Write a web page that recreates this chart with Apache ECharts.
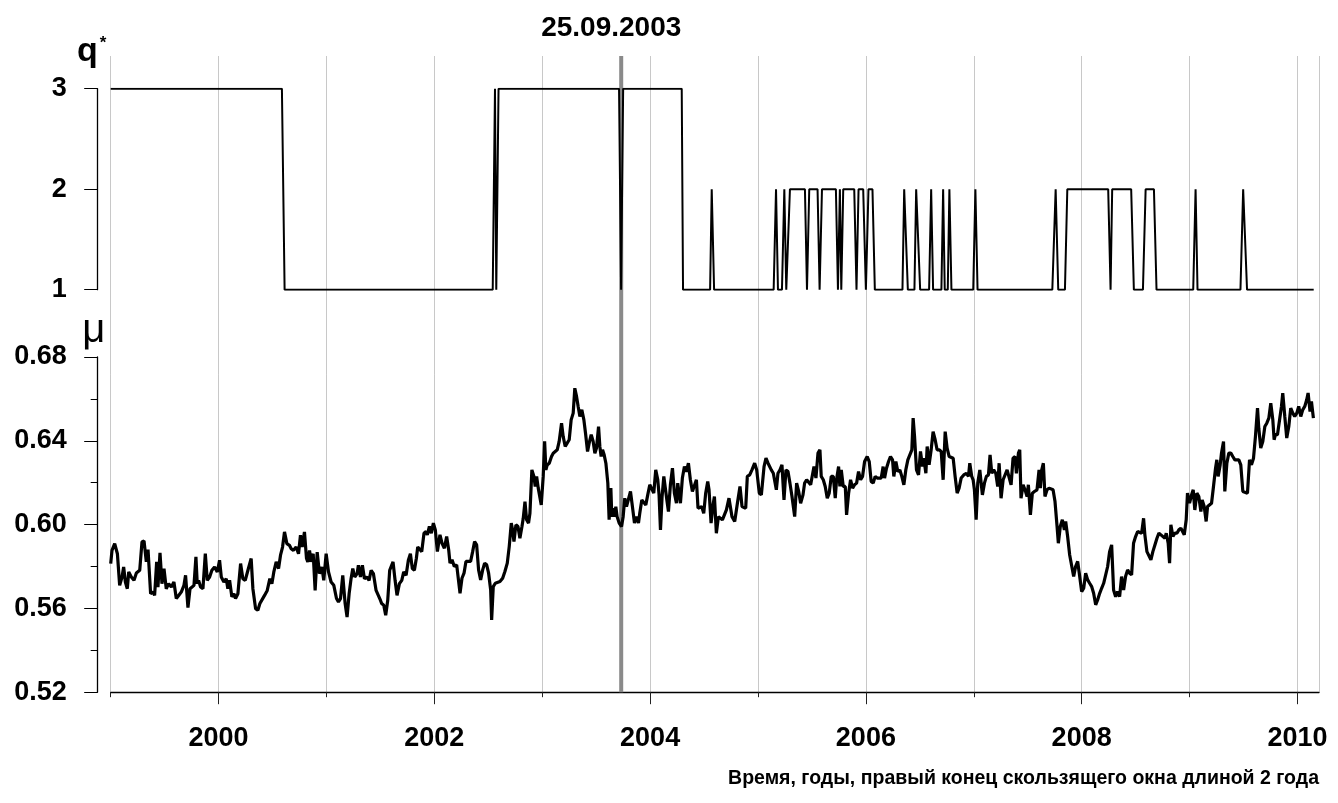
<!DOCTYPE html>
<html><head><meta charset="utf-8">
<script src="https://cdn.jsdelivr.net/npm/echarts@6/dist/echarts.min.js"></script>
<style>html,body{margin:0;padding:0;background:#fff}#c{width:1338px;height:803px}</style>
</head><body><div id="c"></div>
<script>
// μ (bottom panel): [year, value]
const muPoints = [
[1999.000,0.5814],[1999.012,0.5877],[1999.037,0.5909],[1999.062,0.5861],[1999.083,0.5710],[1999.105,0.5750],[1999.120,0.5798],[1999.136,0.5726],[1999.154,0.5694],[1999.167,0.5774],[1999.191,0.5750],[1999.216,0.5734],[1999.238,0.5769],[1999.269,0.5782],[1999.290,0.5917],[1999.309,0.5922],[1999.330,0.5822],[1999.346,0.5881],[1999.370,0.5670],[1999.392,0.5678],[1999.407,0.5662],[1999.426,0.5822],[1999.438,0.5702],[1999.457,0.5865],[1999.475,0.5718],[1999.494,0.5790],[1999.515,0.5694],[1999.537,0.5718],[1999.562,0.5702],[1999.586,0.5726],[1999.608,0.5647],[1999.630,0.5662],[1999.654,0.5678],[1999.679,0.5710],[1999.694,0.5758],[1999.716,0.5604],[1999.735,0.5694],[1999.753,0.5686],[1999.772,0.5710],[1999.790,0.5846],[1999.802,0.5718],[1999.815,0.5734],[1999.833,0.5702],[1999.855,0.5694],[1999.877,0.5861],[1999.895,0.5734],[1999.917,0.5750],[1999.938,0.5782],[1999.963,0.5798],[1999.988,0.5774],
[2000.009,0.5830],[2000.025,0.5750],[2000.049,0.5726],[2000.071,0.5742],[2000.086,0.5694],[2000.102,0.5734],[2000.123,0.5655],[2000.142,0.5670],[2000.157,0.5647],[2000.179,0.5670],[2000.204,0.5814],[2000.225,0.5742],[2000.247,0.5734],[2000.272,0.5782],[2000.302,0.5838],[2000.318,0.5694],[2000.343,0.5599],[2000.364,0.5591],[2000.383,0.5623],[2000.401,0.5623],[2000.426,0.5662],[2000.451,0.5686],[2000.475,0.5742],[2000.494,0.5718],[2000.512,0.5774],[2000.534,0.5822],[2000.556,0.5790],[2000.574,0.5854],[2000.593,0.5893],[2000.611,0.5965],[2000.633,0.5909],[2000.657,0.5901],[2000.673,0.5885],[2000.694,0.5877],[2000.719,0.5893],[2000.741,0.5861],[2000.759,0.5949],[2000.775,0.5893],[2000.796,0.5965],[2000.815,0.5838],[2000.827,0.5822],[2000.843,0.5877],[2000.858,0.5822],[2000.877,0.5861],[2000.895,0.5686],[2000.914,0.5869],[2000.935,0.5766],[2000.957,0.5798],[2000.975,0.5734],[2000.997,0.5861],
[2001.019,0.5774],[2001.043,0.5726],[2001.068,0.5710],[2001.093,0.5647],[2001.111,0.5631],[2001.130,0.5647],[2001.151,0.5758],[2001.173,0.5623],[2001.191,0.5559],[2001.210,0.5670],[2001.228,0.5742],[2001.244,0.5790],[2001.262,0.5750],[2001.284,0.5766],[2001.296,0.5806],[2001.315,0.5750],[2001.333,0.5806],[2001.352,0.5742],[2001.373,0.5750],[2001.395,0.5734],[2001.414,0.5782],[2001.435,0.5766],[2001.460,0.5686],[2001.475,0.5678],[2001.500,0.5639],[2001.512,0.5623],[2001.531,0.5615],[2001.549,0.5567],[2001.568,0.5639],[2001.586,0.5782],[2001.599,0.5774],[2001.617,0.5822],[2001.636,0.5734],[2001.654,0.5662],[2001.676,0.5718],[2001.698,0.5734],[2001.716,0.5774],[2001.738,0.5758],[2001.759,0.5830],[2001.778,0.5861],[2001.796,0.5790],[2001.815,0.5782],[2001.833,0.5838],[2001.846,0.5893],
[2001.861,0.5895],[2001.883,0.5871],[2001.904,0.5959],[2001.923,0.5967],[2001.935,0.5951],[2001.954,0.5991],[2001.972,0.5959],[2001.991,0.6007],[2002.009,0.5975],[2002.028,0.5871],[2002.052,0.5951],[2002.071,0.5911],[2002.093,0.5887],[2002.114,0.5943],[2002.133,0.5879],[2002.145,0.5816],[2002.164,0.5832],[2002.185,0.5800],[2002.207,0.5808],[2002.225,0.5800],[2002.238,0.5672],[2002.256,0.5744],[2002.275,0.5768],[2002.293,0.5824],[2002.315,0.5824],[2002.336,0.5824],[2002.355,0.5871],[2002.373,0.5919],[2002.392,0.5903],[2002.410,0.5784],[2002.429,0.5736],[2002.448,0.5784],[2002.466,0.5816],[2002.485,0.5808],[2002.503,0.5768],[2002.522,0.5688],[2002.531,0.5545],[2002.546,0.5704],[2002.565,0.5720],[2002.583,0.5712],[2002.608,0.5728],[2002.633,0.5744],[2002.654,0.5776],[2002.676,0.5816],[2002.694,0.5895],[2002.713,0.6007],[2002.725,0.5975],[2002.738,0.5919],[2002.756,0.5999],[2002.775,0.5991],[2002.793,0.5935],[2002.812,0.5991],[2002.824,0.6030],[2002.840,0.6110],[2002.855,0.6023],[2002.873,0.6007],[2002.886,0.6054],[2002.904,0.6261],[2002.923,0.6230],[2002.935,0.6182],[2002.948,0.6230],[2002.963,0.6174],[2002.978,0.6182],[2002.991,0.6094],
[2003.009,0.6230],[2003.022,0.6397],[2003.034,0.6261],[2003.046,0.6285],[2003.065,0.6293],[2003.086,0.6325],[2003.102,0.6341],[2003.120,0.6333],[2003.139,0.6357],[2003.157,0.6397],[2003.179,0.6484],[2003.194,0.6421],[2003.213,0.6373],[2003.231,0.6389],[2003.250,0.6405],[2003.268,0.6500],[2003.287,0.6532],[2003.302,0.6651],[2003.318,0.6612],[2003.333,0.6564],[2003.349,0.6516],[2003.367,0.6548],[2003.386,0.6500],[2003.401,0.6437],[2003.420,0.6349],[2003.435,0.6389],[2003.454,0.6429],[2003.472,0.6397],[2003.488,0.6341],[2003.503,0.6365],[2003.522,0.6468],[2003.534,0.6373],[2003.546,0.6325],[2003.559,0.6357],[2003.574,0.6333],[2003.590,0.6293],[2003.608,0.6198],[2003.620,0.6023],[2003.636,0.6174],[2003.645,0.6038],[2003.657,0.6078],[2003.670,0.6038],[2003.682,0.6086],[2003.694,0.6038],[2003.713,0.6007],[2003.735,0.5991],[2003.750,0.6038],[2003.765,0.6126],[2003.781,0.6086],[2003.799,0.6094],[2003.818,0.6158],[2003.836,0.6086],[2003.855,0.6007],[2003.873,0.6038],[2003.892,0.6007],[2003.904,0.6054],[2003.923,0.6118],[2003.941,0.6110],[2003.960,0.6094],[2003.978,0.6142],[2003.997,0.6190],
[2004.015,0.6190],[2004.034,0.6150],[2004.052,0.6261],[2004.071,0.6214],[2004.083,0.6142],[2004.096,0.5975],[2004.111,0.6134],[2004.127,0.6230],[2004.139,0.6230],[2004.157,0.6110],[2004.170,0.6062],[2004.188,0.6190],[2004.207,0.6269],[2004.225,0.6150],[2004.244,0.6102],[2004.256,0.6198],[2004.269,0.6190],[2004.281,0.6102],[2004.299,0.6222],[2004.318,0.6277],[2004.336,0.6253],[2004.355,0.6293],[2004.373,0.6214],[2004.392,0.6158],[2004.410,0.6150],[2004.429,0.6214],[2004.444,0.6078],[2004.460,0.6086],[2004.478,0.6086],[2004.497,0.6054],[2004.515,0.6150],[2004.534,0.6206],[2004.546,0.6166],[2004.565,0.6007],[2004.583,0.6094],[2004.596,0.6134],[2004.614,0.5959],[2004.633,0.6038],[2004.651,0.6038],[2004.670,0.6023],[2004.688,0.6015],[2004.707,0.6070],[2004.731,0.6126],[2004.759,0.6038],[2004.784,0.6015],[2004.809,0.6102],[2004.833,0.6182],[2004.852,0.6086],[2004.870,0.6094],[2004.886,0.6078],[2004.901,0.6230],[2004.923,0.6237],[2004.944,0.6261],[2004.969,0.6293],[2004.988,0.6261],
[2005.012,0.6150],[2005.031,0.6142],[2005.056,0.6277],[2005.074,0.6317],[2005.093,0.6293],[2005.111,0.6301],[2005.123,0.6261],[2005.142,0.6245],[2005.154,0.6245],[2005.170,0.6166],[2005.185,0.6245],[2005.204,0.6261],[2005.222,0.6285],[2005.241,0.6118],[2005.259,0.6261],[2005.278,0.6253],[2005.296,0.6198],[2005.315,0.6134],[2005.340,0.6038],[2005.358,0.6198],[2005.377,0.6158],[2005.395,0.6102],[2005.417,0.6142],[2005.432,0.6198],[2005.451,0.6214],[2005.469,0.6206],[2005.488,0.6190],[2005.506,0.6198],[2005.519,0.6277],[2005.537,0.6222],[2005.556,0.6341],[2005.574,0.6357],[2005.586,0.6230],[2005.605,0.6214],[2005.623,0.6182],[2005.642,0.6126],[2005.660,0.6150],[2005.679,0.6230],[2005.698,0.6230],[2005.716,0.6126],[2005.728,0.6214],[2005.747,0.6277],[2005.759,0.6182],[2005.772,0.6261],[2005.790,0.6182],[2005.809,0.6182],[2005.821,0.6046],[2005.840,0.6150],[2005.858,0.6214],[2005.877,0.6174],[2005.895,0.6190],[2005.914,0.6198],[2005.932,0.6253],[2005.951,0.6214],[2005.969,0.6230],[2005.988,0.6301],
[2006.012,0.6325],[2006.031,0.6301],[2006.049,0.6206],[2006.068,0.6198],[2006.086,0.6230],[2006.105,0.6222],[2006.123,0.6222],[2006.142,0.6222],[2006.160,0.6277],[2006.173,0.6222],[2006.191,0.6269],[2006.210,0.6301],[2006.228,0.6325],[2006.247,0.6309],[2006.259,0.6230],[2006.278,0.6301],[2006.296,0.6253],[2006.315,0.6261],[2006.333,0.6230],[2006.352,0.6190],[2006.370,0.6261],[2006.389,0.6309],[2006.407,0.6317],[2006.426,0.6357],[2006.438,0.6508],[2006.451,0.6421],[2006.469,0.6261],[2006.488,0.6237],[2006.506,0.6349],[2006.525,0.6277],[2006.537,0.6317],[2006.556,0.6245],[2006.568,0.6373],[2006.586,0.6285],[2006.605,0.6357],[2006.623,0.6444],[2006.642,0.6405],[2006.660,0.6357],[2006.679,0.6357],[2006.698,0.6349],[2006.716,0.6214],[2006.735,0.6444],[2006.753,0.6365],[2006.772,0.6325],[2006.790,0.6317],[2006.809,0.6317],[2006.827,0.6230],[2006.846,0.6150],[2006.864,0.6174],[2006.883,0.6222],[2006.907,0.6237],[2006.932,0.6245],[2006.951,0.6230],[2006.963,0.6293],[2006.981,0.6230],[2006.994,0.6214],
[2007.006,0.6166],[2007.022,0.6023],[2007.037,0.6198],[2007.056,0.6261],[2007.068,0.6269],[2007.080,0.6142],[2007.099,0.6198],[2007.117,0.6230],[2007.136,0.6237],[2007.151,0.6333],[2007.167,0.6245],[2007.185,0.6261],[2007.204,0.6245],[2007.222,0.6182],[2007.235,0.6293],[2007.253,0.6126],[2007.272,0.6214],[2007.290,0.6222],[2007.309,0.6261],[2007.327,0.6269],[2007.346,0.6190],[2007.364,0.6317],[2007.383,0.6325],[2007.395,0.6245],[2007.414,0.6341],[2007.426,0.6357],[2007.438,0.6126],[2007.457,0.6190],[2007.475,0.6166],[2007.494,0.6134],[2007.506,0.6190],[2007.525,0.6046],[2007.543,0.6150],[2007.562,0.6158],[2007.586,0.6166],[2007.605,0.6261],[2007.617,0.6174],[2007.630,0.6261],[2007.645,0.6293],[2007.660,0.6134],[2007.679,0.6166],[2007.698,0.6174],[2007.716,0.6174],[2007.735,0.6166],[2007.753,0.6110],[2007.772,0.5991],[2007.784,0.5911],[2007.802,0.5991],[2007.821,0.6023],[2007.840,0.5975],[2007.852,0.6015],[2007.870,0.5943],[2007.889,0.5855],[2007.907,0.5855],[2007.926,0.5752],[2007.944,0.5800],[2007.963,0.5824],[2007.978,0.5768],
[2008.000,0.5680],[2008.019,0.5696],[2008.037,0.5768],[2008.056,0.5736],[2008.074,0.5720],[2008.093,0.5704],[2008.111,0.5672],[2008.130,0.5617],[2008.148,0.5640],[2008.167,0.5672],[2008.185,0.5696],[2008.204,0.5720],[2008.222,0.5712],[2008.241,0.5800],[2008.259,0.5871],[2008.278,0.5903],[2008.296,0.5688],[2008.315,0.5656],[2008.333,0.5680],[2008.352,0.5656],[2008.370,0.5752],[2008.389,0.5688],[2008.407,0.5752],[2008.426,0.5784],[2008.444,0.5768],[2008.463,0.5760],[2008.481,0.5911],[2008.500,0.5943],[2008.519,0.5967],[2008.537,0.5975],[2008.556,0.5959],[2008.574,0.6030],[2008.586,0.5951],[2008.605,0.5871],[2008.623,0.5879],[2008.642,0.5832],[2008.660,0.5871],[2008.679,0.5903],[2008.698,0.5935],[2008.716,0.5959],[2008.735,0.5951],[2008.753,0.5943],[2008.772,0.5935],[2008.784,0.5959],[2008.802,0.5911],[2008.815,0.5816],[2008.827,0.5999],[2008.846,0.5943],[2008.864,0.5959],[2008.883,0.5959],[2008.901,0.5975],[2008.920,0.5983],[2008.938,0.5975],[2008.951,0.5951],[2008.969,0.6023],[2008.981,0.6150],
[2009.000,0.6102],[2009.019,0.6142],[2009.034,0.6166],[2009.049,0.6070],[2009.068,0.6150],[2009.086,0.6134],[2009.105,0.6062],[2009.117,0.6118],[2009.136,0.6086],[2009.154,0.6015],[2009.167,0.6086],[2009.185,0.6086],[2009.204,0.6102],[2009.222,0.6182],[2009.241,0.6269],[2009.253,0.6309],[2009.265,0.6230],[2009.284,0.6285],[2009.296,0.6341],[2009.315,0.6397],[2009.327,0.6158],[2009.346,0.6293],[2009.364,0.6341],[2009.383,0.6341],[2009.401,0.6325],[2009.420,0.6309],[2009.438,0.6317],[2009.457,0.6309],[2009.475,0.6285],[2009.494,0.6158],[2009.512,0.6150],[2009.537,0.6150],[2009.556,0.6309],[2009.574,0.6285],[2009.593,0.6317],[2009.611,0.6421],[2009.630,0.6556],[2009.642,0.6460],[2009.660,0.6365],[2009.679,0.6397],[2009.698,0.6468],[2009.716,0.6484],[2009.735,0.6508],[2009.753,0.6580],[2009.772,0.6500],[2009.784,0.6405],[2009.796,0.6429],[2009.815,0.6429],[2009.833,0.6429],[2009.852,0.6564],[2009.864,0.6628],[2009.883,0.6516],[2009.901,0.6413],[2009.920,0.6468],[2009.938,0.6556],[2009.957,0.6532],[2009.975,0.6516],[2009.994,0.6532],
[2010.012,0.6564],[2010.031,0.6516],[2010.049,0.6548],[2010.068,0.6564],[2010.086,0.6596],[2010.099,0.6628],[2010.117,0.6540],[2010.130,0.6588],[2010.148,0.6508]
];

// q* (top panel): [year, value] at each change
const qPoints = [
[1999.000,3],[2000.587,3],[2000.612,1],[2002.541,1],[2002.562,3],[2002.574,1],[2002.595,3],
[2003.712,3],[2003.731,1],[2003.750,3],[2004.293,3],[2004.305,1],
[2004.556,1],[2004.571,2],[2004.593,1],
[2005.145,1],[2005.167,2],[2005.185,1],[2005.222,1],[2005.244,2],[2005.262,1],[2005.277,1],[2005.296,2],
[2005.435,2],[2005.454,1],[2005.475,2],[2005.552,2],[2005.571,1],[2005.593,2],
[2005.722,2],[2005.741,1],[2005.759,2],[2005.772,1],[2005.790,2],
[2005.892,2],[2005.913,1],[2005.932,2],[2005.975,2],[2006.000,1],[2006.024,2],[2006.061,2],[2006.083,1],
[2006.339,1],[2006.355,2],[2006.370,2],[2006.389,1],
[2006.450,1],[2006.466,2],[2006.481,2],[2006.503,1],
[2006.586,1],[2006.605,2],[2006.623,1],
[2006.700,1],[2006.716,2],[2006.731,1],
[2006.759,1],[2006.774,2],[2006.793,1],
[2006.995,1],[2007.015,2],[2007.035,1],
[2007.728,1],[2007.759,2],[2007.783,1],[2007.845,1],[2007.867,2],
[2008.246,2],[2008.268,1],[2008.283,2],[2008.459,2],[2008.484,1],
[2008.568,1],[2008.593,2],[2008.670,2],[2008.694,1],
[2009.034,1],[2009.056,2],[2009.074,1],
[2009.472,1],[2009.497,2],[2009.512,2],[2009.533,1],
[2010.151,1]
];

const markerDate = 2003.732;
const markerLabel = '25.09.2003';
const yearLabels = [2000, 2002, 2004, 2006, 2008, 2010];
const xRange = [1999, 2010.2];
const qRange = [1, 3];
const muRange = [0.52, 0.68];
const xTitle = 'Время, годы, правый конец скользящего окна длиной 2 года';

const FONT = "'Liberation Sans', Arial, sans-serif";
const W = 1338, H = 803;
const L = 110.7, R = W - 1319;
const axisText = {fontSize: 27, fontWeight: 'bold', color: '#000', fontFamily: FONT};

const chart = echarts.init(document.getElementById('c'), null, {renderer: 'canvas'});
chart.setOption({
  animation: false,
  backgroundColor: '#fff',
  grid: [
    {left: L, right: R, top: 88.7, bottom: H - 289.7},
    {left: L, right: R, top: 357, bottom: H - 692.2},
    {left: L, right: R, top: 56, bottom: H - 692.2}
  ],
  xAxis: [
    {gridIndex: 0, type: 'value', min: xRange[0], max: xRange[1], show: false},
    {gridIndex: 1, type: 'value', position: 'bottom', min: xRange[0], max: xRange[1], interval: 1,
     axisLine: {show: true, onZero: false, lineStyle: {color: '#000', width: 1.3}},
     axisTick: {show: true, length: 5, lineStyle: {color: '#222'}},
     axisLabel: Object.assign({margin: 33, formatter: v => yearLabels.includes(Math.round(v)) ? String(Math.round(v)) : ''}, axisText),
     splitLine: {show: false}},
    {gridIndex: 1, type: 'value', position: 'bottom', min: xRange[0], max: xRange[1], interval: 1,
     axisLine: {show: false, onZero: false},
     axisTick: {show: true, length: 12, customValues: yearLabels, lineStyle: {color: '#222'}},
     axisLabel: {show: false}, splitLine: {show: false}},
    {gridIndex: 2, type: 'value', min: xRange[0], max: xRange[1], interval: 1,
     axisLine: {show: false}, axisTick: {show: false}, axisLabel: {show: false},
     splitLine: {show: true, lineStyle: {color: '#c8c8c8', width: 1}}}
  ],
  yAxis: [
    {gridIndex: 0, type: 'value', min: qRange[0], max: qRange[1], interval: 1, offset: 13,
     axisLine: {show: true, lineStyle: {color: '#000', width: 1.3}},
     axisTick: {show: true, length: 13.5, lineStyle: {color: '#000'}},
     axisLabel: Object.assign({margin: 31}, axisText),
     splitLine: {show: false},
     name: '{q|q}{s|*}', nameLocation: 'end', nameGap: 20,
     nameTextStyle: {padding: [0, 12, 0, 0], rich: {
       q: {fontSize: 34, fontWeight: 'bold', fontFamily: FONT, color: '#000'},
       s: {fontSize: 17, fontWeight: 'bold', fontFamily: FONT, color: '#000', padding: [0, 0, 16, 2]}
     }}},
    {gridIndex: 1, type: 'value', min: muRange[0], max: muRange[1], interval: 0.04, offset: 13,
     axisLine: {show: true, lineStyle: {color: '#000', width: 1.3}},
     axisTick: {show: true, length: 13.5, lineStyle: {color: '#000'}},
     minorTick: {show: true, splitNumber: 2, length: 7, lineStyle: {color: '#000'}},
     axisLabel: Object.assign({margin: 31, formatter: v => v.toFixed(2)}, axisText),
     splitLine: {show: false},
     name: 'μ', nameLocation: 'end', nameGap: 6,
     nameTextStyle: {fontSize: 40, fontWeight: 'normal', fontFamily: FONT, color: '#000', padding: [0, 8, 0, 0]}},
    {gridIndex: 2, type: 'value', min: 0, max: 1, show: false}
  ],
  series: [
    {name: 'q*', type: 'line', xAxisIndex: 0, yAxisIndex: 0, data: qPoints, symbol: 'none',
     lineStyle: {color: '#000', width: 2}, z: 5},
    {name: 'μ', type: 'line', xAxisIndex: 1, yAxisIndex: 1, data: muPoints, symbol: 'none',
     lineStyle: {color: '#000', width: 3.2}, z: 5},
    {name: markerLabel, type: 'line', xAxisIndex: 3, yAxisIndex: 2,
     data: [[markerDate, 0], [markerDate, 1]], symbol: 'none',
     lineStyle: {color: '#8a8a8a', width: 4}, z: 4}
  ]
});

const markerTop = chart.convertToPixel({xAxisIndex: 3, yAxisIndex: 2}, [markerDate, 1]);
chart.setOption({
  graphic: [
    {type: 'text', x: markerTop[0] - 10, y: 28, style: {text: markerLabel, fontSize: 28, fontWeight: 'bold',
      fontFamily: FONT, fill: '#000', align: 'center', verticalAlign: 'middle'}},
    {type: 'text', x: 1319, y: 779, style: {text: xTitle, fontSize: 19.5, fontWeight: 'bold',
      fontFamily: FONT, fill: '#000', align: 'right', verticalAlign: 'middle'}}
  ]
});
</script>
</body></html>
